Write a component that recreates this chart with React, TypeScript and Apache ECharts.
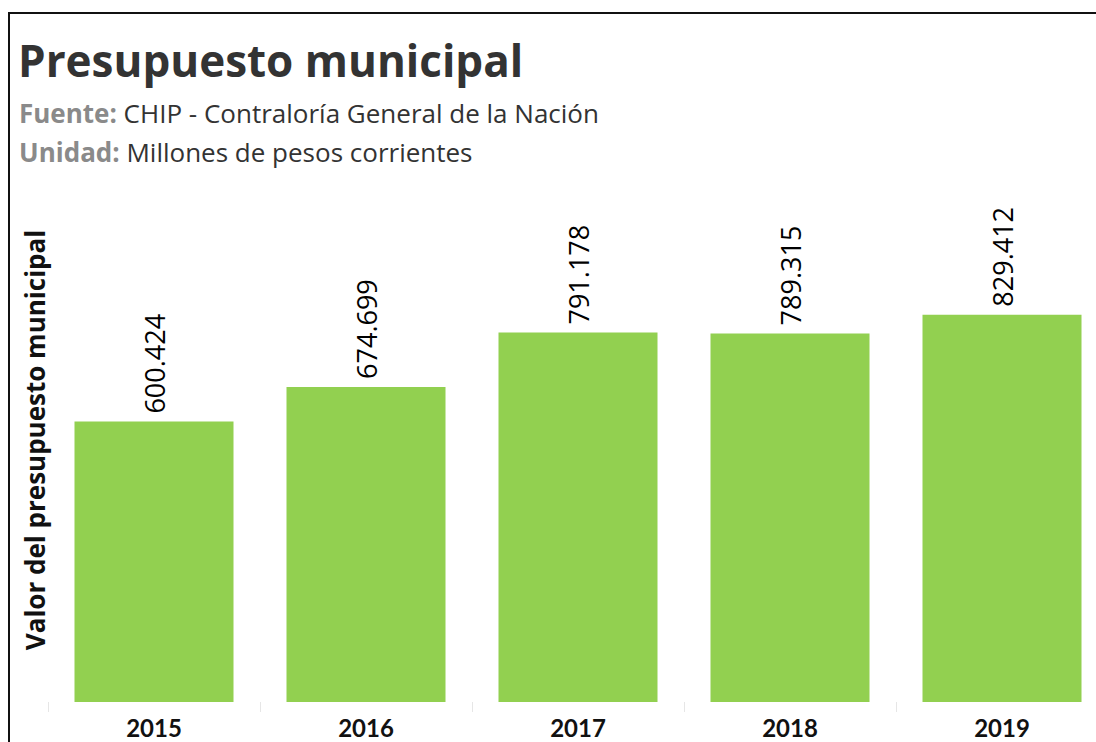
import React, { useEffect, useRef } from "react";
import * as echarts from "echarts";

const categories = ["2015", "2016", "2017", "2018", "2019"];
const values = [600.424, 674.699, 791.178, 789.315, 829.412];
const valueLabels = ["600.424", "674.699", "791.178", "789.315", "829.412"];

const LATO = "Lato, 'Open Sans', sans-serif";
const OPEN = "'Open Sans', Lato, sans-serif";

export default function App() {
  const ref = useRef<HTMLDivElement>(null);
  useEffect(() => {
    document.body.style.overflow = "hidden";
    const chart = echarts.init(ref.current!, undefined, { renderer: "svg" });
    chart.setOption({
      animation: false,
      grid: { left: 48, top: 235, right: 12, height: 467 },
      xAxis: {
        type: "category",
        data: categories,
        axisLine: { show: false },
        axisTick: { show: true, length: 10, lineStyle: { color: "#e6e6e6", width: 1 } },
        axisLabel: { color: "#111", fontSize: 24, fontWeight: "bold", fontFamily: LATO, margin: 13 },
      },
      yAxis: { type: "value", min: 0, max: 1000, show: false, splitLine: { show: false } },
      series: [
        {
          type: "bar",
          data: values,
          barWidth: 159,
          itemStyle: { color: "#92D050" },
          label: {
            show: true,
            position: "top",
            rotate: 90,
            align: "left",
            verticalAlign: "middle",
            distance: 8,
            color: "#000",
            fontSize: 27,
            fontFamily: OPEN,
            formatter: (p: any) => valueLabels[p.dataIndex],
          },
        },
      ],
      graphic: [
        {
          type: "rect",
          shape: { x: 9, y: 13, width: 1200, height: 800 },
          style: { fill: "none", stroke: "#111", lineWidth: 2 },
          silent: true,
        },
        {
          type: "text",
          x: 18,
          y: 60,
          style: {
            text: "Presupuesto municipal",
            font: `bold 44px ${OPEN}`,
            fill: "#333",
            textVerticalAlign: "middle",
          },
        },
        {
          type: "text",
          x: 19,
          y: 113,
          style: {
            text: "{a|Fuente:}{b| CHIP - Contraloría General de la Nación}",
            textVerticalAlign: "middle",
            rich: {
              a: { fontFamily: OPEN, fontSize: 26, fontWeight: "bold", fill: "#8a8a8a" },
              b: { fontFamily: OPEN, fontSize: 26, fill: "#333" },
            },
          },
        },
        {
          type: "text",
          x: 19,
          y: 152,
          style: {
            text: "{a|Unidad:}{b| Millones de pesos corrientes}",
            textVerticalAlign: "middle",
            rich: {
              a: { fontFamily: OPEN, fontSize: 26, fontWeight: "bold", fill: "#8a8a8a" },
              b: { fontFamily: OPEN, fontSize: 26, fill: "#333" },
            },
          },
        },
        {
          type: "text",
          x: 35,
          y: 440,
          rotation: Math.PI / 2,
          style: {
            text: "Valor del presupuesto municipal",
            font: `bold 26px ${OPEN}`,
            fill: "#111",
            textAlign: "center",
            textVerticalAlign: "middle",
          },
        },
      ],
    });
    return () => chart.dispose();
  }, []);
  return (
    <div
      ref={ref}
      style={{ position: "fixed", left: 0, top: 0, width: 1120, height: 742, background: "#fff" }}
    />
  );
}
